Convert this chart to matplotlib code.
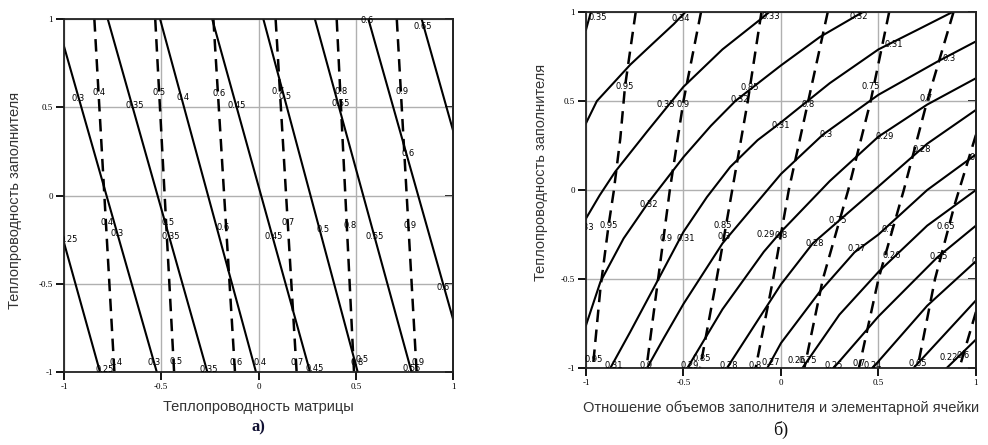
import matplotlib
matplotlib.use("Agg")
import matplotlib.pyplot as plt

# ---------------- левый график (а) ----------------
# сплошные изолинии: значение, x при y=1 и x при y=-1
L_SOLID_LEVELS = [0.25, 0.3, 0.35, 0.4, 0.45, 0.5, 0.55, 0.6, 0.65]
L_SOLID_TOP_X = [-1.32, -1.04, -0.775, -0.506, -0.238, 0.025, 0.29, 0.565, 0.839]
L_SOLID_BOT_X = [-0.815, -0.523, -0.263, -0.013, 0.265, 0.51, 0.787, 1.077, 1.35]

# штриховые изолинии
L_DASH_LEVELS = [0.4, 0.5, 0.6, 0.7, 0.8, 0.9]
L_DASH_TOP_X = [-0.844, -0.531, -0.232, 0.088, 0.402, 0.711]
L_DASH_BOT_X = [-0.741, -0.434, -0.121, 0.196, 0.491, 0.813]

# подписи изолиний (текст, x, y)
L_LABELS = [
    ("0.3", -0.926, 0.55), ("0.35", -0.638, 0.51), ("0.4", -0.39, 0.556),
    ("0.45", -0.112, 0.51), ("0.5", 0.136, 0.56), ("0.55", 0.424, 0.52),
    ("0.6", 0.561, 0.99), ("0.65", 0.842, 0.956), ("0.6", 0.77, 0.238),
    ("0.3", -0.726, -0.215), ("0.35", -0.45, -0.23), ("0.45", 0.08, -0.23),
    ("0.5", 0.333, -0.192), ("0.55", 0.599, -0.23), ("0.6", 0.95, -0.521),
    ("0.25", -0.79, -0.986), ("0.3", -0.536, -0.948), ("0.35", -0.254, -0.986),
    ("0.4", 0.008, -0.948), ("0.45", 0.29, -0.98), ("0.5", 0.535, -0.93),
    ("0.55", 0.787, -0.98),
    ("0.4", -0.82, 0.585), ("0.5", -0.51, 0.585), ("0.6", -0.203, 0.58),
    ("0.7", 0.102, 0.588), ("0.8", 0.424, 0.588), ("0.9", 0.736, 0.588),
    ("0.4", -0.78, -0.155), ("0.5", -0.467, -0.155), ("0.6", -0.18, -0.18),
    ("0.7", 0.153, -0.155), ("0.8", 0.47, -0.168), ("0.9", 0.779, -0.168),
    ("0.4", -0.733, -0.946), ("0.5", -0.426, -0.943), ("0.6", -0.116, -0.948),
    ("0.7", 0.2, -0.948), ("0.8", 0.505, -0.948), ("0.9", 0.822, -0.948),
]
# подпись 0.25 у левого края, обрезанная рамкой
L_LABEL_CUT = ("0.25", -0.93, -0.249)

# ---------------- правый график (б) ----------------
R_SOLID_LEVELS = [0.35, 0.34, 0.33, 0.32, 0.31, 0.3, 0.29, 0.28, 0.27, 0.26, 0.25, 0.24, 0.23, 0.22]
R_SOLID_X = [
    [-1.0, -0.975],
    [-1.0, -0.944, -0.86, -0.773, -0.66, -0.55, -0.49],
    [-1.0, -0.93, -0.85, -0.687, -0.5, -0.3, -0.097, -0.06],
    [-1.0, -0.926, -0.807, -0.68, -0.5, -0.36, -0.234, -0.1, 0.0, 0.2, 0.42],
    [-0.875, -0.773, -0.636, -0.5, -0.38, -0.26, -0.12, 0.0, 0.25, 0.5, 0.7, 0.88],
    [-0.687, -0.6, -0.5, -0.3, 0.0, 0.214, 0.5, 0.8, 1.0],
    [-0.48, -0.3, -0.088, 0.0, 0.25, 0.5, 0.75, 1.0],
    [-0.277, 0.0, 0.163, 0.5, 0.75, 1.0],
    [-0.07, 0.0, 0.2, 0.377, 0.5, 0.75, 1.0],
    [0.11, 0.3, 0.5, 0.75, 1.0],
    [0.27, 0.5, 0.8, 1.0],
    [0.47, 0.75, 1.0],
    [0.68, 1.0],
    [0.85, 1.0],
]
R_SOLID_Y = [
    [0.9, 1.0],
    [0.375, 0.5, 0.6, 0.704, 0.82, 0.932, 1.0],
    [-0.16, -0.03, 0.103, 0.328, 0.58, 0.79, 0.966, 1.0],
    [-0.76, -0.516, -0.272, -0.07, 0.185, 0.36, 0.5, 0.615, 0.7, 0.86, 1.0],
    [-1.0, -0.797, -0.516, -0.235, -0.04, 0.13, 0.28, 0.38, 0.6, 0.79, 0.9, 1.0],
    [-1.0, -0.83, -0.64, -0.3, 0.09, 0.31, 0.535, 0.72, 0.835],
    [-1.0, -0.67, -0.347, -0.235, 0.05, 0.3, 0.48, 0.628],
    [-1.0, -0.53, -0.3, 0.02, 0.26, 0.45],
    [-1.0, -0.86, -0.57, -0.35, -0.25, 0.0, 0.2],
    [-1.0, -0.7, -0.46, -0.2, 0.0],
    [-1.0, -0.71, -0.38, -0.2],
    [-1.0, -0.65, -0.4],
    [-1.0, -0.62],
    [-1.0, -0.84],
]

R_DASH_LEVELS = [0.95, 0.9, 0.85, 0.8, 0.75, 0.7, 0.65, 0.6]
R_DASH_X = [
    [-0.745, -0.8, -0.824, -0.858, -0.884, -0.926, -0.965],
    [-0.41, -0.5, -0.57, -0.63, -0.69],
    [-0.1, -0.17, -0.25, -0.33, -0.415],
    [0.24, 0.14, 0.04, -0.04, -0.13],
    [0.555, 0.46, 0.345, 0.215, 0.12],
    [0.885, 0.75, 0.63, 0.5, 0.4],
    [1.0, 0.89, 0.79, 0.7],
    [1.0, 0.915],
]
R_DASH_Y = [
    [1.0, 0.58, 0.29, -0.01, -0.197, -0.553, -1.0],
    [1.0, 0.5, 0.0, -0.5, -1.0],
    [1.0, 0.5, 0.0, -0.5, -1.0],
    [1.0, 0.5, 0.0, -0.5, -1.0],
    [1.0, 0.5, 0.0, -0.5, -1.0],
    [1.0, 0.5, 0.0, -0.5, -1.0],
    [0.31, -0.085, -0.5, -1.0],
    [-0.685, -1.0],
]

R_LABELS = [
    ("0.35", -0.94, 0.97), ("0.34", -0.515, 0.965), ("0.33", -0.59, 0.478),
    ("0.33", -0.05, 0.975), ("0.32", -0.68, -0.08), ("0.32", -0.21, 0.51),
    ("0.32", 0.4, 0.975), ("0.31", -0.86, -0.985), ("0.31", -0.49, -0.27),
    ("0.31", 0.0, 0.36), ("0.31", 0.58, 0.82), ("0.3", -0.29, -0.26),
    ("0.3", 0.23, 0.31), ("0.3", 0.86, 0.74), ("0.29", -0.47, -0.985),
    ("0.29", -0.08, -0.25), ("0.29", 0.53, 0.3), ("0.28", -0.27, -0.985),
    ("0.28", 0.175, -0.3), ("0.28", 0.72, 0.225), ("0.27", -0.05, -0.97),
    ("0.27", 0.39, -0.33), ("0.26", 0.08, -0.96), ("0.26", 0.57, -0.37),
    ("0.25", 0.27, -0.985), ("0.25", 0.81, -0.375), ("0.24", 0.47, -0.985),
    ("0.22", 0.86, -0.94),
    ("0.95", -0.8, 0.58), ("0.95", -0.884, -0.197), ("0.95", -0.96, -0.95),
    ("0.9", -0.5, 0.478), ("0.9", -0.59, -0.27), ("0.9", -0.69, -0.985),
    ("0.85", -0.16, 0.575), ("0.85", -0.3, -0.2), ("0.85", -0.406, -0.947),
    ("0.8", 0.137, 0.48), ("0.8", 0.0, -0.253), ("0.8", -0.13, -0.985),
    ("0.75", 0.462, 0.582), ("0.75", 0.29, -0.17), ("0.75", 0.137, -0.957),
    ("0.7", 0.744, 0.516), ("0.7", 0.548, -0.22), ("0.7", 0.4, -0.975),
    ("0.65", 0.846, -0.206), ("0.65", 0.7, -0.975), ("0.6", 0.935, -0.93),
]
# подписи, обрезанные рамкой
R_LABELS_CUT_LEFT = [("0.33", -0.96, -0.21)]
R_LABELS_CUT_RIGHT = [("0.27", 0.965, 0.18), ("0.24", 0.975, -0.4)]

TICKS = [-1, -0.5, 0, 0.5, 1]
TICK_TXT = ["-1", "-0.5", "0", "0.5", "1"]

fig = plt.figure(figsize=(9.88, 4.45), dpi=100)
axL = fig.add_axes([0.0648, 0.164, 0.3937, 0.793])
axR = fig.add_axes([0.5931, 0.173, 0.3947, 0.800])

lab_font = dict(fontsize=6, family="DejaVu Sans", color="black")


def setup(ax):
    ax.set_xlim(-1, 1)
    ax.set_ylim(-1, 1)
    ax.set_xticks(TICKS)
    ax.set_yticks(TICKS)
    ax.set_xticklabels(TICK_TXT, fontsize=6.5, family="Liberation Serif")
    ax.set_yticklabels(TICK_TXT, fontsize=6.5, family="Liberation Serif")
    ax.grid(True, color="#b0b0b0", linewidth=1.0)
    ax.set_axisbelow(True)
    ax.tick_params(direction="out", length=6, width=1.3, pad=2)
    for s in ax.spines.values():
        s.set_linewidth(1.3)
        s.set_color("#222222")
    # засечки внутрь на правой рамке
    sec = ax.secondary_yaxis("right")
    sec.set_yticks(TICKS)
    sec.tick_params(direction="in", length=6, width=1.3, labelright=False)
    sec.spines["right"].set_linewidth(1.3)
    sec.spines["right"].set_color("#222222")


setup(axL)
setup(axR)

# левый график
for xt, xb in zip(L_SOLID_TOP_X, L_SOLID_BOT_X):
    axL.plot([xt, xb], [1, -1], color="black", lw=1.5)
for xt, xb in zip(L_DASH_TOP_X, L_DASH_BOT_X):
    axL.plot([xt, xb], [1, -1], color="black", lw=1.8, dashes=(5, 3))
for t, x, y in L_LABELS:
    axL.text(x, y, t, ha="center", va="center", **lab_font)
t, x, y = L_LABEL_CUT
axL.text(x, y, t, ha="right", va="center", clip_on=True, **lab_font)

# правый график
for xs, ys in zip(R_SOLID_X, R_SOLID_Y):
    axR.plot(xs, ys, color="black", lw=1.5)
for xs, ys in zip(R_DASH_X, R_DASH_Y):
    axR.plot(xs, ys, color="black", lw=1.8, dashes=(5, 3))
for t, x, y in R_LABELS:
    axR.text(x, y, t, ha="center", va="center", **lab_font)
for t, x, y in R_LABELS_CUT_LEFT:
    axR.text(x, y, t, ha="right", va="center", clip_on=True, **lab_font)
for t, x, y in R_LABELS_CUT_RIGHT:
    axR.text(x, y, t, ha="left", va="center", clip_on=True, **lab_font)

# подписи осей
ax_font = dict(fontsize=10.5, family="Liberation Sans", color="#333333")
fig.text(258 / 988, 1 - 407 / 445, "Теплопроводность матрицы", ha="center", va="center", **ax_font)
fig.text(15 / 988, 1 - 200 / 445, "Теплопроводность заполнителя", rotation=90,
         ha="center", va="center", **ax_font)
fig.text(781 / 988, 1 - 408 / 445, "Отношение объемов заполнителя и элементарной ячейки",
         ha="center", va="center", **ax_font)
fig.text(541 / 988, 1 - 172 / 445, "Теплопроводность заполнителя", rotation=90,
         ha="center", va="center", **ax_font)

fig.text(258 / 988, 1 - 427 / 445, "а)", ha="center", va="center", fontsize=12,
         family="Liberation Serif", fontweight="bold", color="#111133")
fig.text(781 / 988, 1 - 430 / 445, "б)", ha="center", va="center", fontsize=13,
         family="Liberation Serif", color="#111111")

fig.savefig("out.png", dpi=100)
